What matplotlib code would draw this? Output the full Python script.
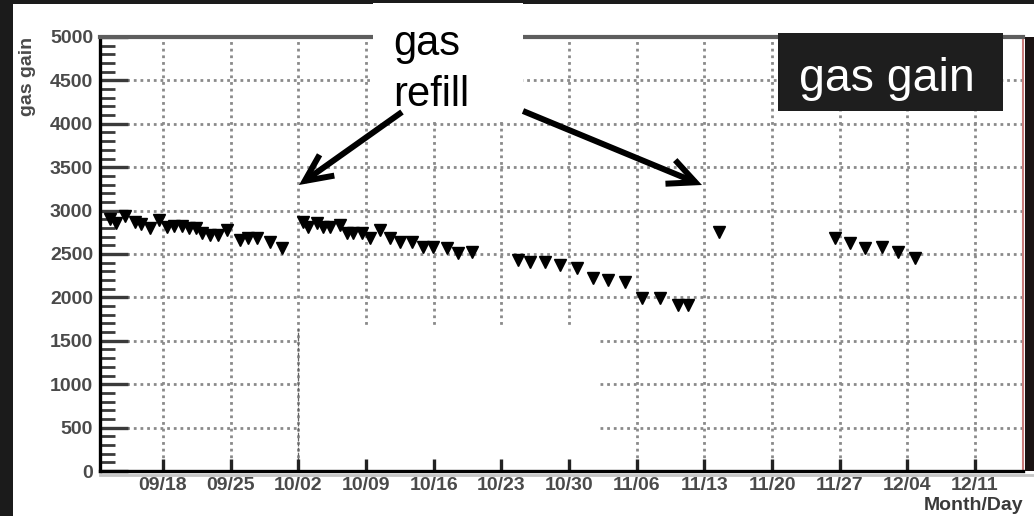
import matplotlib
matplotlib.use("Agg")
import matplotlib.pyplot as plt
from matplotlib.patches import Rectangle, FancyArrowPatch
from matplotlib.lines import Line2D
from matplotlib.ticker import MultipleLocator, FixedLocator, FixedFormatter

plt.rcParams["font.family"] = ["Liberation Sans", "DejaVu Sans"]

W, H, DPI = 1034, 516, 100

# Gas gain measurements: days counted from 09/18, gain values
days = [-5.48, -4.86, -3.93, -2.90, -2.31, -1.34, -0.38, 0.38, 1.14, 1.93,
        2.72, 3.41, 4.00, 4.86, 5.72, 6.59, 7.97, 8.83, 9.69, 11.07, 12.28,
        14.51, 15.03, 15.90, 16.58, 17.28, 18.31, 19.00, 19.69, 20.55, 21.41,
        22.45, 23.48, 24.52, 25.73, 26.93, 27.96, 29.35, 30.55, 31.93,
        36.76, 37.96, 39.52, 41.07, 42.79, 44.51, 46.06, 47.79, 49.52, 51.41,
        53.30, 54.34,
        57.55,
        69.52, 71.07, 72.62, 74.35, 76.06, 77.79]
gain = [2903, 2853, 2941, 2865, 2842, 2796, 2892, 2815, 2822, 2822,
        2803, 2796, 2738, 2719, 2719, 2776, 2661, 2680, 2680, 2642, 2565,
        2872, 2815, 2853, 2815, 2815, 2834, 2738, 2738, 2738, 2680,
        2776, 2680, 2642, 2642, 2584, 2584, 2565, 2507, 2526,
        2431, 2411, 2411, 2373, 2335, 2220, 2200, 2181, 1989, 1989,
        1912, 1912,
        2757,
        2680, 2622, 2565, 2584, 2526, 2450]

week_days = [0, 7, 14, 21, 28, 35, 42, 49, 56, 63, 70, 77, 84]
week_labels = ["09/18", "09/25", "10/02", "10/09", "10/16", "10/23", "10/30",
               "11/06", "11/13", "11/20", "11/27", "12/04", "12/11"]
gain_ticks = [0, 500, 1000, 1500, 2000, 2500, 3000, 3500, 4000, 4500, 5000]
gain_labels = [str(v) for v in gain_ticks]


def fx(px):
    return px / W


def fy(py):
    return 1 - py / H


def fig_rect(x0, y0, x1, y1, color, z):
    fig.add_artist(Rectangle((fx(x0), fy(y1)), fx(x1 - x0), (y1 - y0) / H,
                             transform=fig.transFigure, facecolor=color,
                             edgecolor="none", zorder=z))


fig = plt.figure(figsize=(W / DPI, H / DPI), dpi=DPI)
fig.patch.set_facecolor("#1b1b1b")

# slide page
fig_rect(13, 4, W, H, "white", -5)

ax = fig.add_axes([fx(100), 45 / H, fx(923), 434 / H])
ax.set_facecolor("white")
ax.set_xlim(-6.52, 88.96)
ax.set_ylim(0, 5000)

# dotted grid
grid_kw = dict(color="#8a8a8a", lw=2.0, ls=(0, (1, 1.4)), zorder=1)
for d in week_days:
    ax.axvline(d, **grid_kw)
for g in gain_ticks[1:-1]:
    ax.axhline(g, **grid_kw)

# blank patch over the lower grid
ax.add_patch(Rectangle((14.12, 0), 45.0 - 14.12, 1650, facecolor="white",
                       edgecolor="none", zorder=1.2))
ax.plot([14, 14], [0, 1650], color="#666666", lw=0.9, ls=(0, (3, 1)), zorder=1.3)

ax.plot(days, gain, ls="none", marker="v", ms=8.5, color="black", zorder=3)

ax.xaxis.set_major_locator(FixedLocator(week_days))
ax.xaxis.set_major_formatter(FixedFormatter(week_labels))
ax.yaxis.set_major_locator(FixedLocator(gain_ticks))
ax.yaxis.set_major_formatter(FixedFormatter(gain_labels))
ax.yaxis.set_minor_locator(MultipleLocator(100))

ax.tick_params(axis="y", which="major", direction="in", length=20, width=2.4,
               color="#3a3a3a", pad=5, labelsize=14, labelcolor="#4a4a4a")
ax.tick_params(axis="y", which="minor", direction="in", length=11, width=2.0,
               color="#3a3a3a")
ax.tick_params(axis="x", which="major", direction="in", length=9, width=2.4,
               color="#222222", pad=4, labelsize=14, labelcolor="#4a4a4a")
for lab in ax.get_xticklabels() + ax.get_yticklabels():
    lab.set_fontweight("bold")

for side in ("left", "bottom"):
    ax.spines[side].set_color("black")
    ax.spines[side].set_linewidth(2.4)
ax.spines["top"].set_color("#5e5e5e")
ax.spines["top"].set_linewidth(3)
ax.spines["right"].set_color("#c97a7a")
ax.spines["right"].set_linewidth(1.5)

# shadow under the bottom axis and dark frame on the right
fig.add_artist(Line2D([fx(100), fx(1034)], [fy(474.5), fy(474.5)],
                      transform=fig.transFigure, color="#c4c4c4", lw=2, zorder=4))
fig_rect(1025, 37, W, 471, "#1a1212", 4)

fig.text(fx(27), fy(37), "gas gain", rotation=90, ha="center", va="top",
         fontsize=14, fontweight="bold", color="#4a4a4a")
fig.text(fx(1023), fy(505), "Month/Day", ha="right", va="center",
         fontsize=14, fontweight="bold", color="#3a3a3a")

# annotation: gas refill
fig_rect(373, 3, 523, 122, "white", 6)
fig.text(fx(393), fy(55), "gas", ha="left", va="baseline", fontsize=30,
         color="black", zorder=7)
fig.text(fx(393), fy(106), "refill", ha="left", va="baseline", fontsize=30,
         color="black", zorder=7)

arrow_kw = dict(transform=fig.transFigure,
                arrowstyle="->,head_length=0.98,head_width=0.46",
                mutation_scale=20, lw=4.3, color="black", shrinkA=0, shrinkB=0,
                zorder=8, capstyle="butt", joinstyle="miter")
fig.add_artist(FancyArrowPatch((fx(402), fy(112)), (fx(299), fy(185)), **arrow_kw))
fig.add_artist(FancyArrowPatch((fx(523), fy(111)), (fx(702), fy(185)), **arrow_kw))

# annotation: gas gain title box
fig_rect(778, 33, 1003, 111, "#1e1e1e", 6)
fig.text(fx(799), fy(91), "gas gain", ha="left", va="baseline", fontsize=33.5,
         color="white", zorder=7)

fig.savefig("out.png", dpi=DPI, facecolor=fig.get_facecolor())
